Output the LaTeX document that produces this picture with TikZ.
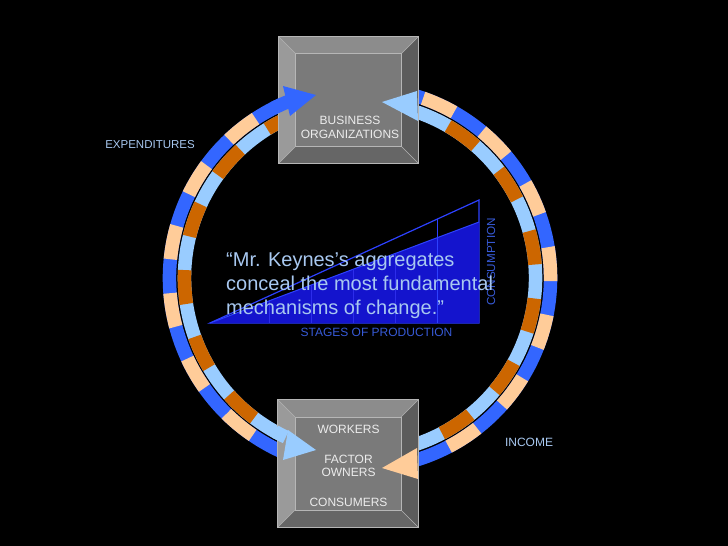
\documentclass[tikz,border=0pt]{standalone}
\usepackage{fontspec}
\setmainfont{Liberation Sans}
\usetikzlibrary{calc}
\definecolor{cblue}{RGB}{51,102,255}
\definecolor{cpeach}{RGB}{255,204,153}
\definecolor{clblue}{RGB}{153,204,255}
\definecolor{corange}{RGB}{204,102,0}
\definecolor{qtext}{RGB}{168,200,240}
\definecolor{dblue}{RGB}{55,90,215}
\definecolor{trifill}{RGB}{20,20,205}
\definecolor{triline}{RGB}{45,65,255}
\definecolor{trivert}{RGB}{45,45,235}
\definecolor{bevtop}{RGB}{140,140,140}
\definecolor{bevleft}{RGB}{154,154,154}
\definecolor{bevface}{RGB}{122,122,122}
\definecolor{bevright}{RGB}{92,92,92}
\definecolor{bevbot}{RGB}{102,102,102}
\definecolor{bevline}{RGB}{182,182,182}
\definecolor{boxtxt}{RGB}{236,236,236}

\newcommand\bevbox[2]{%
 \fill[bevtop] (#1.north west) -- (#1.north east) -- ([shift={(-#2,#2)}]#1.north east) -- ([shift={(#2,#2)}]#1.north west) -- cycle;
 \fill[bevleft] (#1.north west) -- ([shift={(#2,#2)}]#1.north west) -- ([shift={(#2,-#2)}]#1.south west) -- (#1.south west) -- cycle;
 \fill[bevright] (#1.north east) -- (#1.south east) -- ([shift={(-#2,-#2)}]#1.south east) -- ([shift={(-#2,#2)}]#1.north east) -- cycle;
 \fill[bevbot] (#1.south west) -- (#1.south east) -- ([shift={(-#2,-#2)}]#1.south east) -- ([shift={(#2,-#2)}]#1.south west) -- cycle;
 \fill[bevface] ([shift={(#2,#2)}]#1.north west) rectangle ([shift={(-#2,-#2)}]#1.south east);
 \draw[bevline, line width=0.8pt] (#1.north west) rectangle (#1.south east);
 \draw[bevline, line width=0.6pt] ([shift={(#2,#2)}]#1.north west) rectangle ([shift={(-#2,-#2)}]#1.south east);
 \draw[bevline, line width=0.6pt] (#1.north west) -- ([shift={(#2,#2)}]#1.north west)
   (#1.north east) -- ([shift={(-#2,#2)}]#1.north east)
   (#1.south west) -- ([shift={(#2,-#2)}]#1.south west)
   (#1.south east) -- ([shift={(-#2,-#2)}]#1.south east);
}

\begin{document}
\begin{tikzpicture}[x=1pt,y=-1pt,
  lane/.style={line width=13.5pt},
  dashover/.style={line width=13.5pt, dash pattern=on 34pt off 34pt, dash phase=34pt},
  boxnode/.style={rectangle, inner sep=0pt, minimum width=140pt, minimum height=127pt},
  boxtext/.style={text=boxtxt, font=\fontsize{12}{13.5}\selectfont, align=center, inner sep=0pt},
  quote/.style={text=qtext, font=\fontsize{20}{24}\selectfont, anchor=base west, inner sep=0pt},
  lbl/.style={text=qtext, font=\fontsize{11.5}{13}\selectfont, inner sep=0pt},
  stage/.style={text=dblue, font=\fontsize{12}{14}\selectfont, inner sep=0pt}
]
\useasboundingbox (0,0) rectangle (728,546);
\fill[black] (0,0) rectangle (728,546);
\coordinate (c) at (360,278);

% stages-of-production triangle
\draw[triline, line width=1.2pt] (210,323) -- (479,200) -- (479,323) -- cycle;
\fill[trifill] (210,323) -- (479,222) -- (479,323) -- cycle;
\draw[triline, line width=1pt] (210,323) -- (479,222);
\draw[triline, line width=1pt] (437,219.2) -- (437,323);
\foreach \xx/\yy in {269/300.8, 311/285.1, 353/269.3, 395/253.5}
  \draw[trivert, line width=1pt] (\xx,\yy) -- (\xx,323);

% circular flows: left side
\draw[lane, cblue] ($(c)+(247:190.5)$) arc[start angle=247, end angle=112, radius=190.5];
\draw[dashover, cpeach] ($(c)+(247:190.5)$) arc[start angle=247, end angle=112, radius=190.5];
\draw[lane, clblue] ($(c)+(116:175.5)$) arc[start angle=116, end angle=248, radius=175.5];
\draw[dashover, corange] ($(c)+(116:175.5)$) arc[start angle=116, end angle=248, radius=175.5];
% right side
\draw[lane, cblue] ($(c)+(72.5:190.5)$) arc[start angle=72.5, end angle=-74, radius=190.5];
\draw[dashover, cpeach] ($(c)+(72.5:190.5)$) arc[start angle=72.5, end angle=-74, radius=190.5];
\draw[lane, clblue] ($(c)+(-71:175.5)$) arc[start angle=-71, end angle=74, radius=175.5];
\draw[dashover, corange] ($(c)+(-71:175.5)$) arc[start angle=-71, end angle=74, radius=175.5];

% boxes
\node[boxnode] (biz) at (348.5,100) {};
\node[boxnode] (wrk) at (348,463.5) {};
\bevbox{biz}{17}
\bevbox{wrk}{17}

% arrow ends
\draw[lane, cblue] ($(c)+(243:190.5)$) arc[start angle=243, end angle=248, radius=190.5];
\fill[cblue] (283,86) -- (316,95) -- (290,116) -- cycle;
\fill[clblue] (417,91) -- (382,102) -- (418,121) -- cycle;
\fill[cpeach] (417,448) -- (382,468) -- (418,479) -- cycle;
\draw[lane, clblue] ($(c)+(119:175.5)$) arc[start angle=119, end angle=115, radius=175.5];
\fill[clblue] (288,430) -- (316,450) -- (283,460) -- cycle;

% box texts
\node[boxtext] (biztxt) at (350,127.5) {BUSINESS\\ORGANIZATIONS};
\node[boxtext] (wk1) at (348.5,429.5) {WORKERS};
\node[boxtext] (wk2) at (348.5,466) {FACTOR\\OWNERS};
\node[boxtext] (wk3) at (348.5,502) {CONSUMERS};

% labels
\node[lbl] (exp) at (150,145) {EXPENDITURES};
\node[lbl, font=\fontsize{12}{14}\selectfont] (inc) at (529,442) {INCOME};
\node[stage] (stg) at (376.5,332) {STAGES OF PRODUCTION};
\node[stage, rotate=90, font=\fontsize{11.7}{14}\selectfont] (cons) at (491,262) {CONSUMPTION};

% quote
\node[quote] (q1) at (226,266) {“Mr. Keynes’s aggregates};
\node[quote] (q2) at (226,290) {conceal the most fundamental};
\node[quote] (q3) at (226,314) {mechanisms of change.”};
\end{tikzpicture}
\end{document}
